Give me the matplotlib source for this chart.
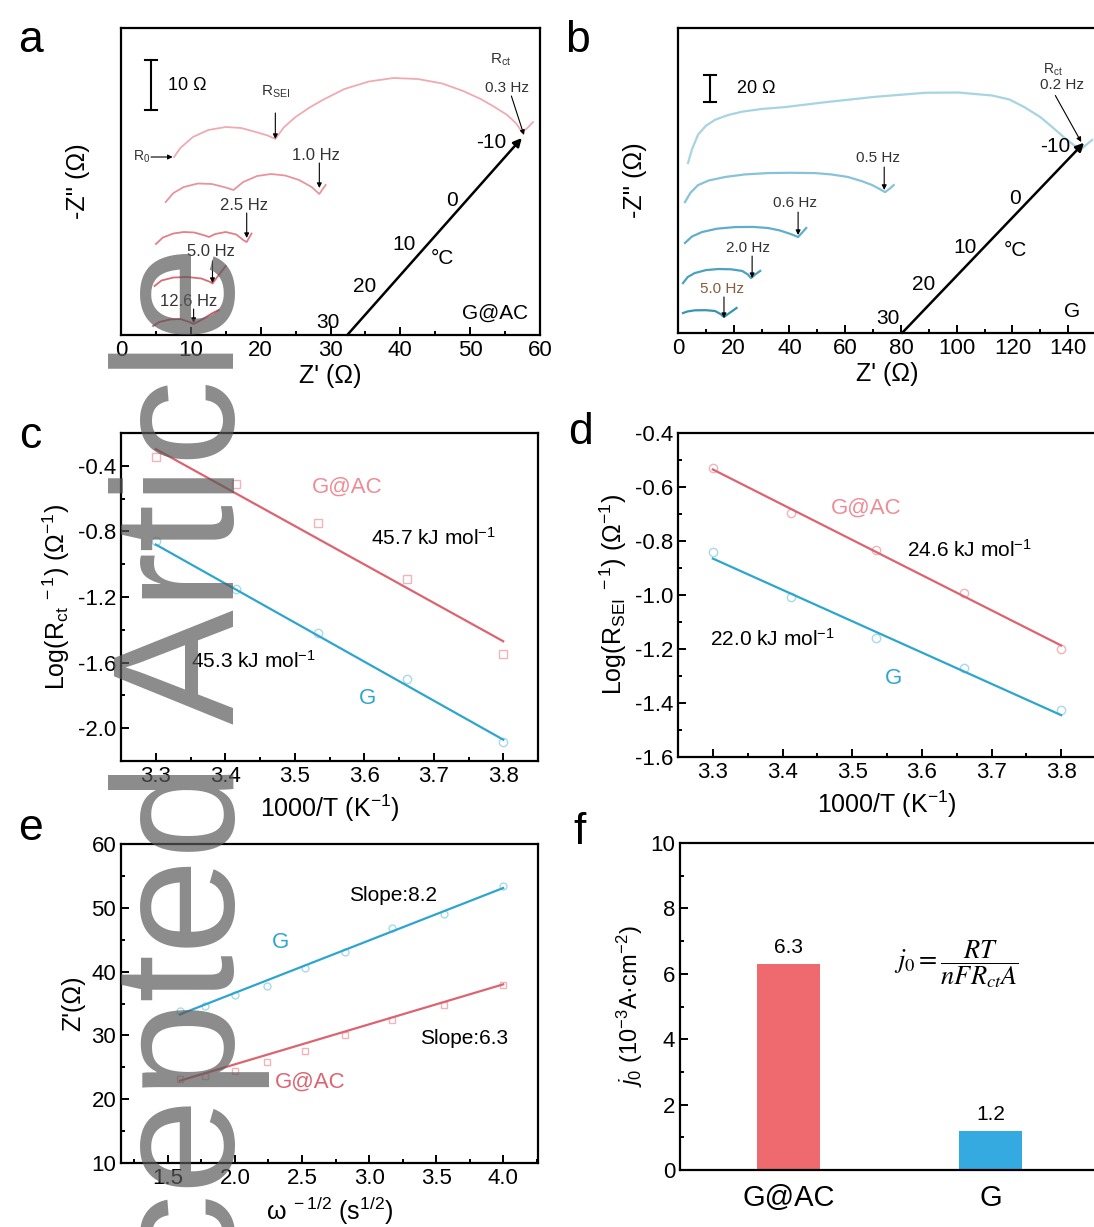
import matplotlib
matplotlib.use("Agg")
import matplotlib.pyplot as plt
from matplotlib.ticker import MultipleLocator

plt.rcParams['font.family'] = ['Liberation Sans', 'DejaVu Sans']
plt.rcParams['mathtext.fontset'] = 'custom'
plt.rcParams['mathtext.rm'] = 'Liberation Sans'
plt.rcParams['mathtext.it'] = 'Liberation Sans:italic'
plt.rcParams['mathtext.bf'] = 'Liberation Sans:bold'
plt.rcParams['axes.unicode_minus'] = False

# ---- panel a: Nyquist curves of G@AC (Z', stacked -Z'') ----
a_m10_z = [7.6, 8.5, 10.3, 12.5, 15.0, 17.2, 19.3, 21.0, 22.1, 23.3, 25.0, 27.0, 29.0, 32.0, 35.5,
           39.0, 42.5, 46.0, 49.0, 51.5, 53.5, 55.3, 56.6, 57.4, 58.2, 59.0]
a_m10_y = [35.6, 37.4, 39.6, 41.0, 41.6, 41.4, 40.6, 39.9, 39.2, 41.5, 43.6, 45.5, 47.1, 49.2, 50.7,
           51.4, 51.2, 50.3, 48.8, 47.2, 45.6, 44.0, 42.3, 40.6, 41.4, 42.6]
a_0_z = [6.4, 7.5, 9.0, 11.0, 13.0, 15.0, 16.1, 17.5, 19.5, 21.5, 23.5, 25.5, 27.3, 28.4, 29.3]
a_0_y = [26.6, 28.4, 29.6, 30.3, 30.2, 29.5, 29.0, 30.6, 31.8, 32.2, 31.9, 31.0, 29.6, 28.2, 30.0]
a_10_z = [5.0, 6.0, 7.5, 9.0, 10.5, 12.0, 12.6, 13.5, 15.0, 16.5, 17.6, 18.0, 18.7]
a_10_y = [18.2, 19.5, 20.3, 20.6, 20.5, 19.9, 19.6, 20.2, 20.6, 20.1, 18.9, 18.6, 20.3]
a_20_z = [4.8, 5.8, 7.5, 9.5, 11.5, 12.8, 13.1, 14.0, 15.0]
a_20_y = [9.8, 10.9, 11.5, 11.6, 11.3, 10.6, 10.3, 12.0, 13.8]
a_30_z = [4.6, 5.5, 7.0, 8.5, 9.8, 10.4, 11.5, 13.0, 14.0]
a_30_y = [1.8, 2.6, 3.1, 3.2, 2.6, 2.2, 3.0, 4.3, 5.0]

# ---- panel b: Nyquist curves of G ----
b_m10_z = [3.6, 5, 7.2, 10, 13.3, 18, 23, 30, 38.4, 52.8, 70.7, 88.7, 100.5, 112.7, 119, 124.6,
           130, 134.3, 138.5, 142.5, 144.6, 146.5, 148.6]
b_m10_y = [126, 136, 147, 153.5, 158, 161.5, 164, 166, 167.4, 171, 175, 178, 178.2, 176, 173, 167,
           160, 152.6, 145, 138.5, 136, 139.5, 143]
b_0_z = [2.5, 4.5, 7.2, 11, 16.9, 24, 32.3, 40, 49.2, 55, 61, 66, 69.7, 72.5, 74.3, 76, 77.4]
b_0_y = [97, 104, 109.6, 113, 115.6, 117.5, 118.5, 118.7, 118.5, 117.5, 115.6, 112.5, 109.6, 106.5,
         104.4, 107, 109.6]
b_10_z = [2.5, 5, 8.6, 14, 20.5, 27, 32.3, 36.5, 39.5, 41.5, 43.1, 44.6, 46]
b_10_y = [66.7, 71.5, 74.8, 77.3, 78.5, 78.6, 77.8, 76, 74, 72.5, 71.1, 74.5, 77.8]
b_20_z = [1.8, 3.5, 6, 10, 14.4, 19, 23, 25, 26.2, 27.8, 29.5]
b_20_y = [37, 41.5, 44.4, 46.6, 47.4, 47.2, 46, 43.5, 40.7, 43.5, 46]
b_30_z = [1.8, 3.5, 6, 10, 13.3, 15.3, 16.5, 18.8, 21]
b_30_y = [14.8, 16, 16.8, 16.9, 16.3, 14, 11.9, 15.3, 18.5]

# ---- panel c: Arrhenius, R_ct ----
c_x = [3.3, 3.415, 3.534, 3.661, 3.8]
c_gac = [-0.346, -0.508, -0.75, -1.088, -1.546]
c_gac_fit = [-0.298, -1.47]
c_g = [-0.86, -1.15, -1.42, -1.70, -2.086]
c_g_fit = [-0.88, -2.07]

# ---- panel d: Arrhenius, R_SEI ----
d_x = [3.3, 3.412, 3.534, 3.661, 3.8]
d_gac = [-0.529, -0.697, -0.832, -0.994, -1.2]
d_gac_fit = [-0.535, -1.187]
d_g = [-0.839, -1.006, -1.161, -1.271, -1.426]
d_g_fit = [-0.865, -1.445]

# ---- panel e: Z' vs w^-1/2 ----
e_x = [1.59, 1.78, 2.0, 2.24, 2.52, 2.82, 3.17, 3.56, 4.0]
e_g = [33.9, 34.6, 36.3, 37.7, 40.6, 43.0, 46.8, 49.0, 53.4]
e_g_fit = [33.3, 53.1]
e_gac = [23.2, 23.6, 24.4, 25.9, 27.6, 30.0, 32.4, 34.8, 37.9]
e_gac_fit = [22.9, 38.0]

# ---- panel f: exchange current density ----
f_names = ['G@AC', 'G']
f_vals = [6.3, 1.2]

RED = '#DC6470'
BLUE = '#2EA5CF'
RED_M = '#F2B4BA'
BLUE_M = '#A8DAEC'

W, H = 1094, 1227
fig = plt.figure(figsize=(W / 100, H / 100), dpi=100)


def px_axes(l, t, r, b):
    return fig.add_axes([l / W, 1 - b / H, (r - l) / W, (b - t) / H])


def style(ax):
    for s in ax.spines.values():
        s.set_linewidth(1.6)
    ax.tick_params(which='both', direction='in', top=False, right=False, width=1.4, labelsize=16)
    ax.tick_params(which='major', length=6)
    ax.tick_params(which='minor', length=3)


ax_a = px_axes(121, 28, 540, 335)
ax_b = px_axes(678, 28, 1096, 333)
ax_c = px_axes(121, 433, 538, 761)
ax_d = px_axes(678, 433, 1096, 757)
ax_e = px_axes(121, 844, 538, 1163)
ax_f = px_axes(680, 843, 1096, 1170)

arr = dict(arrowstyle='-|>', color='k', lw=0.8, mutation_scale=7, shrinkA=0, shrinkB=0)
big_arr = dict(arrowstyle='-|>', color='k', lw=1.8, mutation_scale=12, shrinkA=0, shrinkB=0)
LBL = '#333333'

# ---------- a ----------
ax = ax_a
style(ax)
for zz, yy, col in [(a_m10_z, a_m10_y, '#F0AAB2'), (a_0_z, a_0_y, '#E8949C'),
                    (a_10_z, a_10_y, '#E2808A'), (a_20_z, a_20_y, '#DA6A76'),
                    (a_30_z, a_30_y, '#D45866')]:
    ax.plot(zz, yy, color=col, lw=1.3)
ax.set_xlim(0, 60)
ax.set_ylim(0, 61.4)
ax.set_yticks([])
ax.xaxis.set_major_locator(MultipleLocator(10))
ax.xaxis.set_minor_locator(MultipleLocator(5))
ax.set_xlabel("Z' (Ω)", fontsize=18, labelpad=2)
ax.set_ylabel("-Z'' (Ω)", fontsize=18, labelpad=22)
ax.plot([4.3, 4.3], [45, 55], color='k', lw=1.5)
ax.plot([3.4, 5.2], [55, 55], color='k', lw=1.5)
ax.plot([3.4, 5.2], [45, 45], color='k', lw=1.5)
ax.text(6.7, 50, '10 Ω', fontsize=13, va='center')
ax.text(2.9, 35.6, r'R$_{\mathrm{0}}$', fontsize=10, va='center', ha='center', color=LBL)
ax.annotate('', xy=(7.4, 35.6), xytext=(4.3, 35.6), arrowprops=arr)
ax.text(22.1, 48.6, r'R$_{\mathrm{SEI}}$', fontsize=11, ha='center', va='center', color=LBL)
ax.annotate('', xy=(22.1, 39.2), xytext=(22.1, 44.4), arrowprops=arr)
ax.text(27.9, 36, '1.0 Hz', fontsize=12, ha='center', va='center', color=LBL)
ax.annotate('', xy=(28.4, 29.4), xytext=(28.4, 34.4), arrowprops=arr)
ax.text(17.6, 26, '2.5 Hz', fontsize=12, ha='center', va='center', color=LBL)
ax.annotate('', xy=(18.0, 19.4), xytext=(18.0, 24.4), arrowprops=arr)
ax.text(12.9, 16.6, '5.0 Hz', fontsize=12, ha='center', va='center', color=LBL)
ax.annotate('', xy=(13.1, 10.4), xytext=(13.1, 14.8), arrowprops=arr)
ax.text(9.7, 6.6, '12.6 Hz', fontsize=12, ha='center', va='center', color=LBL)
ax.annotate('', xy=(10.4, 2.4), xytext=(10.4, 5.2), arrowprops=arr)
ax.text(54.3, 55, r'R$_{\mathrm{ct}}$', fontsize=11, ha='center', va='center', color=LBL)
ax.text(55.3, 49.4, '0.3 Hz', fontsize=11, ha='center', va='center', color=LBL)
ax.annotate('', xy=(57.7, 40.0), xytext=(55.9, 47.8), arrowprops=arr)
ax.annotate('', xy=(57.4, 39.4), xytext=(32.4, 0), arrowprops=big_arr)
for s, x, y in [('30', 29.7, 2.6), ('20', 34.9, 9.6), ('10', 40.6, 18.2), ('0', 47.4, 27.0),
                ('-10', 53.0, 38.4), ('°C', 46.1, 15.4)]:
    ax.text(x, y, s, fontsize=15, ha='center', va='center')
ax.text(53.6, 4.4, 'G@AC', fontsize=15, ha='center', va='center')

# ---------- b ----------
ax = ax_b
style(ax)
for zz, yy, col in [(b_m10_z, b_m10_y, '#A6D4E2'), (b_0_z, b_0_y, '#86C3D8'),
                    (b_10_z, b_10_y, '#60AECB'), (b_20_z, b_20_y, '#4AA1C0'),
                    (b_30_z, b_30_y, '#3993B2')]:
    ax.plot(zz, yy, color=col, lw=1.6)
ax.set_xlim(0, 150)
ax.set_ylim(0, 226)
ax.set_yticks([])
ax.xaxis.set_major_locator(MultipleLocator(20))
ax.xaxis.set_minor_locator(MultipleLocator(10))
ax.set_xlabel("Z' (Ω)", fontsize=18, labelpad=2)
ax.set_ylabel("-Z'' (Ω)", fontsize=18, labelpad=22)
ax.plot([11.5, 11.5], [171, 191], color='k', lw=1.5)
ax.plot([9.3, 13.7], [191, 191], color='k', lw=1.5)
ax.plot([9.3, 13.7], [171, 171], color='k', lw=1.5)
ax.text(21.3, 181, '20 Ω', fontsize=13, va='center')
ax.text(71.8, 129.6, '0.5 Hz', fontsize=11, ha='center', va='center', color=LBL)
ax.annotate('', xy=(74, 106), xytext=(74, 123), arrowprops=arr)
ax.text(42.0, 96.3, '0.6 Hz', fontsize=11, ha='center', va='center', color=LBL)
ax.annotate('', xy=(43.1, 72.6), xytext=(43.1, 89.6), arrowprops=arr)
ax.text(25.1, 63, '2.0 Hz', fontsize=11, ha='center', va='center', color=LBL)
ax.annotate('', xy=(26.6, 40.7), xytext=(26.6, 57), arrowprops=arr)
ax.text(15.8, 32.6, '5.0 Hz', fontsize=11, ha='center', va='center', color='#8a5a3a')
ax.annotate('', xy=(16.5, 11.1), xytext=(16.5, 26.7), arrowprops=arr)
ax.text(134.6, 194.8, r'R$_{\mathrm{ct}}$', fontsize=10, ha='center', va='center', color=LBL)
ax.text(137.9, 183.7, '0.2 Hz', fontsize=11, ha='center', va='center', color=LBL)
ax.annotate('', xy=(144.7, 141.5), xytext=(135.4, 176), arrowprops=arr)
ax.annotate('', xy=(145.7, 141), xytext=(80.4, 0), arrowprops=big_arr)
for s, x, y in [('30', 75.4, 11.1), ('20', 88.0, 35.6), ('10', 103.0, 63.7), ('0', 121.0, 100.0),
                ('-10', 135.4, 138.5), ('°C', 121.0, 61.5)]:
    ax.text(x, y, s, fontsize=15, ha='center', va='center')
ax.text(141.5, 15.6, 'G', fontsize=15, ha='center', va='center')

# ---------- c ----------
ax = ax_c
style(ax)
ax.plot(c_x, c_gac, 's', mfc='none', mec=RED_M, ms=6, mew=1)
ax.plot(c_x, c_g, 'o', mfc='none', mec=BLUE_M, ms=6, mew=1)
ax.plot([c_x[0], c_x[-1]], c_gac_fit, color=RED, lw=1.6)
ax.plot([c_x[0], c_x[-1]], c_g_fit, color=BLUE, lw=1.6)
ax.set_xlim(3.25, 3.85)
ax.set_ylim(-2.2, -0.2)
ax.xaxis.set_major_locator(MultipleLocator(0.1))
ax.xaxis.set_minor_locator(MultipleLocator(0.05))
ax.yaxis.set_major_locator(MultipleLocator(0.4))
ax.yaxis.set_minor_locator(MultipleLocator(0.2))
ax.set_xlabel('1000/T (K$^{-1}$)', fontsize=18)
ax.set_ylabel(r'Log(R$_{\mathrm{ct}}$$^{\ -1}$) ($\Omega^{-1}$)', fontsize=18)
ax.text(3.576, -0.53, 'G@AC', color='#EE8C96', fontsize=16, ha='center', va='center')
ax.text(3.70, -0.84, '45.7 kJ mol$^{-1}$', fontsize=15, ha='center', va='center')
ax.text(3.44, -1.59, '45.3 kJ mol$^{-1}$', fontsize=15, ha='center', va='center')
ax.text(3.604, -1.82, 'G', color=BLUE, fontsize=16, ha='center', va='center')

# ---------- d ----------
ax = ax_d
style(ax)
ax.plot(d_x, d_gac, 'o', mfc='none', mec=RED_M, ms=6, mew=1)
ax.plot(d_x, d_g, 'o', mfc='none', mec=BLUE_M, ms=6, mew=1)
ax.plot([d_x[0], d_x[-1]], d_gac_fit, color=RED, lw=1.6)
ax.plot([d_x[0], d_x[-1]], d_g_fit, color=BLUE, lw=1.6)
ax.set_xlim(3.25, 3.85)
ax.set_ylim(-1.6, -0.4)
ax.xaxis.set_major_locator(MultipleLocator(0.1))
ax.xaxis.set_minor_locator(MultipleLocator(0.05))
ax.yaxis.set_major_locator(MultipleLocator(0.2))
ax.yaxis.set_minor_locator(MultipleLocator(0.1))
ax.set_xlabel('1000/T (K$^{-1}$)', fontsize=18)
ax.set_ylabel(r'Log(R$_{\mathrm{SEI}}$$^{\ -1}$) ($\Omega^{-1}$)', fontsize=18)
ax.text(3.52, -0.677, 'G@AC', color='#EE8C96', fontsize=16, ha='center', va='center')
ax.text(3.668, -0.832, '24.6 kJ mol$^{-1}$', fontsize=15, ha='center', va='center')
ax.text(3.385, -1.161, '22.0 kJ mol$^{-1}$', fontsize=15, ha='center', va='center')
ax.text(3.56, -1.31, 'G', color=BLUE, fontsize=16, ha='center', va='center')

# ---------- e ----------
ax = ax_e
style(ax)
ax.plot(e_x, e_g, 'o', mfc='none', mec=BLUE_M, ms=5, mew=1)
ax.plot(e_x, e_gac, 's', mfc='none', mec=RED_M, ms=5, mew=1)
ax.plot([e_x[0], e_x[-1]], e_g_fit, color=BLUE, lw=1.6)
ax.plot([e_x[0], e_x[-1]], e_gac_fit, color=RED, lw=1.6)
ax.set_xlim(1.15, 4.26)
ax.set_ylim(10, 60)
ax.xaxis.set_major_locator(MultipleLocator(0.5))
ax.xaxis.set_minor_locator(MultipleLocator(0.25))
ax.yaxis.set_major_locator(MultipleLocator(10))
ax.yaxis.set_minor_locator(MultipleLocator(5))
ax.set_xlabel(r'$\mathrm{\omega}^{\ -1/2}$ (s$^{1/2}$)', fontsize=18)
ax.set_ylabel("Z'(Ω)", fontsize=18)
ax.text(3.18, 52.0, 'Slope:8.2', fontsize=15, ha='center', va='center')
ax.text(2.34, 44.6, 'G', color=BLUE, fontsize=16, ha='center', va='center')
ax.text(3.71, 29.5, 'Slope:6.3', fontsize=15, ha='center', va='center')
ax.text(2.56, 22.6, 'G@AC', color=RED, fontsize=16, ha='center', va='center')

# ---------- f ----------
ax = ax_f
style(ax)
ax.bar(range(len(f_names)), f_vals, width=0.31, color=['#EE6A6E', '#35AAE0'])
for i, v in enumerate(f_vals):
    ax.text(i, v + 0.2, f'{v:.1f}', fontsize=15, ha='center', va='bottom')
ax.set_xticks(range(len(f_names)))
ax.set_xticklabels(f_names, fontsize=21)
ax.tick_params(axis='x', length=0, pad=10)
ax.set_xlim(-0.535, 1.52)
ax.set_ylim(0, 10)
ax.yaxis.set_major_locator(MultipleLocator(2))
ax.yaxis.set_minor_locator(MultipleLocator(1))
ax.set_ylabel(r'$j_0$ (10$^{-3}$A·cm$^{-2}$)', fontsize=17)
ax.text(0.83, 6.3, r'$j_0 = \dfrac{RT}{nFR_{ct}A}$', fontsize=19, ha='center', va='center',
        math_fontfamily='stix')

# panel letters
for s, x, y in [('a', 30, 40), ('b', 578, 40), ('c', 30, 437), ('d', 580, 432), ('e', 30, 828), ('f', 580, 833)]:
    fig.text(x / W, 1 - y / H, s, fontsize=32, ha='center', va='center')

# watermark
fig.text(234 / W, 1 - 245 / H, 'Accepted Article', rotation=90, rotation_mode='anchor',
         ha='right', va='baseline', fontsize=124, color='#5a5a5a', alpha=0.7, zorder=100)

fig.savefig('out.png', dpi=100)
